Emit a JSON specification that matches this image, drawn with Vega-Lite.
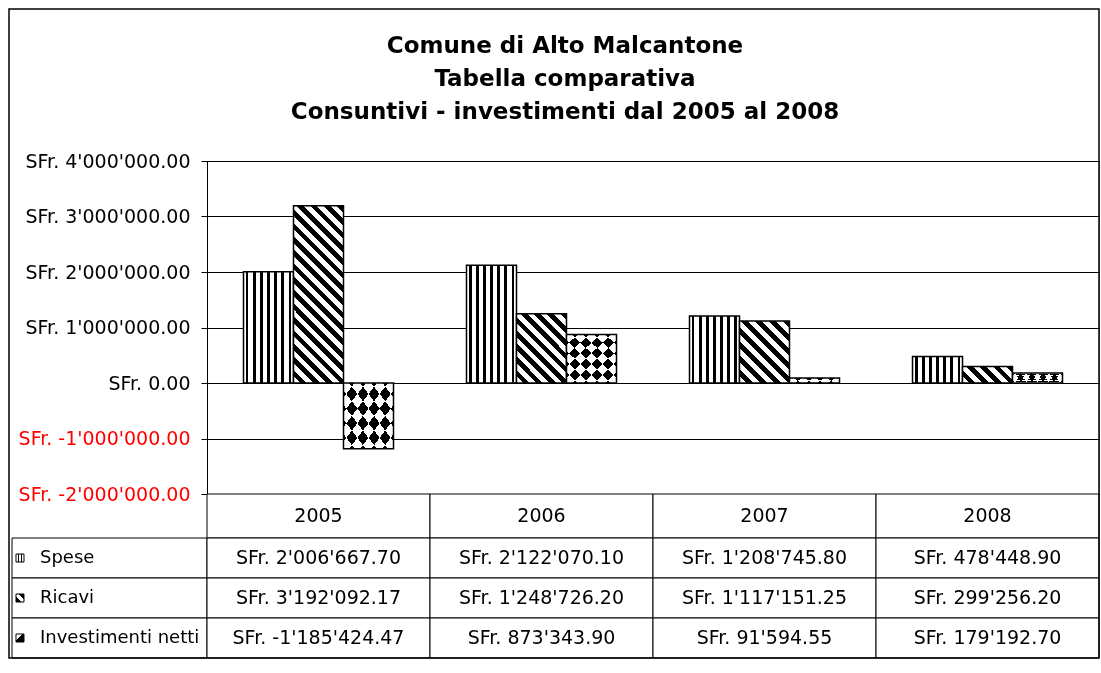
{
  "$schema": "https://vega.github.io/schema/vega-lite/v6.json",
  "background": "white",
  "padding": {"left": 9, "top": 9, "right": 0, "bottom": 0},
  "config": {"view": {"stroke": null}, "font": "DejaVu Sans"},
  "datasets": {
    "rows": [
      {"year": "2005", "series": "Spese", "value": 2006667.70},
      {"year": "2005", "series": "Ricavi", "value": 3192092.17},
      {"year": "2005", "series": "Investimenti netti", "value": -1185424.47},
      {"year": "2006", "series": "Spese", "value": 2122070.10},
      {"year": "2006", "series": "Ricavi", "value": 1248726.20},
      {"year": "2006", "series": "Investimenti netti", "value": 873343.90},
      {"year": "2007", "series": "Spese", "value": 1208745.80},
      {"year": "2007", "series": "Ricavi", "value": 1117151.25},
      {"year": "2007", "series": "Investimenti netti", "value": 91594.55},
      {"year": "2008", "series": "Spese", "value": 478448.90},
      {"year": "2008", "series": "Ricavi", "value": 299256.20},
      {"year": "2008", "series": "Investimenti netti", "value": 179192.70}
    ]
  },
  "columns": 2,
  "spacing": 0,
  "bounds": "flush",
  "concat": [
    {
      "width": 195, "height": 333,
      "data": {"values": [{"a": 1}]},
      "mark": {"type": "text", "text": ""},
      "encoding": {
        "color": {
          "datum": 1, "type": "quantitative",
          "scale": {"domain": [0, 1], "range": ["#ffffff", "#ffffff"]},
          "legend": {
            "orient": "none", "legendX": -3, "legendY": -152,
            "direction": "horizontal", "title": null, "labelExpr": "''",
            "labelFontSize": 1, "labelOffset": 0,
            "padding": 0, "gradientLength": 1090, "gradientThickness": 649,
            "gradientStrokeColor": "#000000", "gradientStrokeWidth": 1.5,
            "encode": {"gradient": {"update": {"fillOpacity": {"value": 0}}}}
          }
        }
      }
    },
    {
      "width": 892, "height": 333,
      "data": {"name": "rows"},
      "view": {"stroke": "#808080"},
      "title": {
        "text": ["Comune di Alto Malcantone", "Tabella comparativa", "Consuntivi - investimenti dal 2005 al 2008"],
        "font": "DejaVu Sans", "fontSize": 23, "fontWeight": "bold", "lineHeight": 33,
        "anchor": "middle", "frame": "group", "dx": -88, "offset": 28, "color": "#000000"
      },
      "encoding": {
        "x": {"field": "year", "type": "nominal", "scale": {"domain": ["2005", "2006", "2007", "2008"], "paddingInner": 0, "paddingOuter": 0}, "axis": null},
        "xOffset": {"field": "series", "type": "nominal", "scale": {"domain": ["Spese", "Ricavi", "Investimenti netti"], "paddingInner": 0, "paddingOuter": 0.73}},
        "y": {
          "field": "value", "type": "quantitative",
          "scale": {"domain": [-2000000, 4000000], "nice": false},
          "axis": {
            "title": null,
            "values": [-2000000, -1000000, 0, 1000000, 2000000, 3000000, 4000000],
            "labelExpr": "'SFr. ' + (datum.value < 0 ? '-' : '') + replace(format(abs(datum.value), ',.2f'), regexp(',', 'g'), \"'\")",
            "labelColor": {"condition": {"test": "datum.value < 0", "value": "#ff0000"}, "value": "#000000"},
            "labelFont": "DejaVu Sans", "labelFontSize": 19, "labelPadding": 11,
            "tickSize": 6, "tickColor": "#000000", "domainColor": "#000000",
            "grid": true, "gridColor": "#000000", "gridOpacity": 1
          }
        }
      },
      "layer": [
        {
          "transform": [{"filter": "datum.series === 'Spese'"}],
          "mark": {"type": "bar", "stroke": "#000000", "strokeWidth": 1.5,
            "fill": {"gradient": "linear", "x1": 0, "y1": 0, "x2": 1, "y2": 0, "stops": [
              {"offset": 0, "color": "#fff"},
              {"offset": 0.043, "color": "#fff"}, {"offset": 0.043, "color": "#000"}, {"offset": 0.1, "color": "#000"}, {"offset": 0.1, "color": "#fff"},
              {"offset": 0.186, "color": "#fff"}, {"offset": 0.186, "color": "#000"}, {"offset": 0.243, "color": "#000"}, {"offset": 0.243, "color": "#fff"},
              {"offset": 0.329, "color": "#fff"}, {"offset": 0.329, "color": "#000"}, {"offset": 0.386, "color": "#000"}, {"offset": 0.386, "color": "#fff"},
              {"offset": 0.471, "color": "#fff"}, {"offset": 0.471, "color": "#000"}, {"offset": 0.529, "color": "#000"}, {"offset": 0.529, "color": "#fff"},
              {"offset": 0.614, "color": "#fff"}, {"offset": 0.614, "color": "#000"}, {"offset": 0.671, "color": "#000"}, {"offset": 0.671, "color": "#fff"},
              {"offset": 0.757, "color": "#fff"}, {"offset": 0.757, "color": "#000"}, {"offset": 0.814, "color": "#000"}, {"offset": 0.814, "color": "#fff"},
              {"offset": 0.9, "color": "#fff"}, {"offset": 0.9, "color": "#000"}, {"offset": 0.957, "color": "#000"}, {"offset": 0.957, "color": "#fff"},
              {"offset": 1, "color": "#fff"}
            ]}
          }
        },
        {
          "transform": [{"filter": "datum.series === 'Ricavi'"}],
          "mark": {"type": "bar", "stroke": "#000000", "strokeWidth": 1.5},
          "encoding": {
            "fill": {
              "condition": [
                {"test": "datum.year === '2005'", "value": {"gradient": "linear", "x1": 1, "y1": 0, "x2": 0.6645, "y2": 1.1877, "stops": [
                  {"offset": 0, "color": "#000"},
                  {"offset": 0.0294, "color": "#000"}, {"offset": 0.0294, "color": "#fff"},
                  {"offset": 0.0588, "color": "#fff"}, {"offset": 0.0588, "color": "#000"},
                  {"offset": 0.0882, "color": "#000"}, {"offset": 0.0882, "color": "#fff"},
                  {"offset": 0.1176, "color": "#fff"}, {"offset": 0.1176, "color": "#000"},
                  {"offset": 0.1471, "color": "#000"}, {"offset": 0.1471, "color": "#fff"},
                  {"offset": 0.1765, "color": "#fff"}, {"offset": 0.1765, "color": "#000"},
                  {"offset": 0.2059, "color": "#000"}, {"offset": 0.2059, "color": "#fff"},
                  {"offset": 0.2353, "color": "#fff"}, {"offset": 0.2353, "color": "#000"},
                  {"offset": 0.2647, "color": "#000"}, {"offset": 0.2647, "color": "#fff"},
                  {"offset": 0.2941, "color": "#fff"}, {"offset": 0.2941, "color": "#000"},
                  {"offset": 0.3235, "color": "#000"}, {"offset": 0.3235, "color": "#fff"},
                  {"offset": 0.3529, "color": "#fff"}, {"offset": 0.3529, "color": "#000"},
                  {"offset": 0.3824, "color": "#000"}, {"offset": 0.3824, "color": "#fff"},
                  {"offset": 0.4118, "color": "#fff"}, {"offset": 0.4118, "color": "#000"},
                  {"offset": 0.4412, "color": "#000"}, {"offset": 0.4412, "color": "#fff"},
                  {"offset": 0.4706, "color": "#fff"}, {"offset": 0.4706, "color": "#000"},
                  {"offset": 0.5, "color": "#000"}, {"offset": 0.5, "color": "#fff"},
                  {"offset": 0.5294, "color": "#fff"}, {"offset": 0.5294, "color": "#000"},
                  {"offset": 0.5588, "color": "#000"}, {"offset": 0.5588, "color": "#fff"},
                  {"offset": 0.5882, "color": "#fff"}, {"offset": 0.5882, "color": "#000"},
                  {"offset": 0.6176, "color": "#000"}, {"offset": 0.6176, "color": "#fff"},
                  {"offset": 0.6471, "color": "#fff"}, {"offset": 0.6471, "color": "#000"},
                  {"offset": 0.6765, "color": "#000"}, {"offset": 0.6765, "color": "#fff"},
                  {"offset": 0.7059, "color": "#fff"}, {"offset": 0.7059, "color": "#000"},
                  {"offset": 0.7353, "color": "#000"}, {"offset": 0.7353, "color": "#fff"},
                  {"offset": 0.7647, "color": "#fff"}, {"offset": 0.7647, "color": "#000"},
                  {"offset": 0.7941, "color": "#000"}, {"offset": 0.7941, "color": "#fff"},
                  {"offset": 0.8235, "color": "#fff"}, {"offset": 0.8235, "color": "#000"},
                  {"offset": 0.8529, "color": "#000"}, {"offset": 0.8529, "color": "#fff"},
                  {"offset": 0.8824, "color": "#fff"}, {"offset": 0.8824, "color": "#000"},
                  {"offset": 0.9118, "color": "#000"}, {"offset": 0.9118, "color": "#fff"},
                  {"offset": 0.9412, "color": "#fff"}, {"offset": 0.9412, "color": "#000"},
                  {"offset": 0.9706, "color": "#000"}, {"offset": 0.9706, "color": "#fff"},
                  {"offset": 1, "color": "#fff"}
                ]}},
                {"test": "datum.year === '2006'", "value": {"gradient": "linear", "x1": 1, "y1": 0, "x2": 0.1805, "y2": 1.1308, "stops": [
                  {"offset": 0, "color": "#000"},
                  {"offset": 0.0556, "color": "#000"}, {"offset": 0.0556, "color": "#fff"},
                  {"offset": 0.1111, "color": "#fff"}, {"offset": 0.1111, "color": "#000"},
                  {"offset": 0.1667, "color": "#000"}, {"offset": 0.1667, "color": "#fff"},
                  {"offset": 0.2222, "color": "#fff"}, {"offset": 0.2222, "color": "#000"},
                  {"offset": 0.2778, "color": "#000"}, {"offset": 0.2778, "color": "#fff"},
                  {"offset": 0.3333, "color": "#fff"}, {"offset": 0.3333, "color": "#000"},
                  {"offset": 0.3889, "color": "#000"}, {"offset": 0.3889, "color": "#fff"},
                  {"offset": 0.4444, "color": "#fff"}, {"offset": 0.4444, "color": "#000"},
                  {"offset": 0.5, "color": "#000"}, {"offset": 0.5, "color": "#fff"},
                  {"offset": 0.5556, "color": "#fff"}, {"offset": 0.5556, "color": "#000"},
                  {"offset": 0.6111, "color": "#000"}, {"offset": 0.6111, "color": "#fff"},
                  {"offset": 0.6667, "color": "#fff"}, {"offset": 0.6667, "color": "#000"},
                  {"offset": 0.7222, "color": "#000"}, {"offset": 0.7222, "color": "#fff"},
                  {"offset": 0.7778, "color": "#fff"}, {"offset": 0.7778, "color": "#000"},
                  {"offset": 0.8333, "color": "#000"}, {"offset": 0.8333, "color": "#fff"},
                  {"offset": 0.8889, "color": "#fff"}, {"offset": 0.8889, "color": "#000"},
                  {"offset": 0.9444, "color": "#000"}, {"offset": 0.9444, "color": "#fff"},
                  {"offset": 1, "color": "#fff"}
                ]}},
                {"test": "datum.year === '2007'", "value": {"gradient": "linear", "x1": 1, "y1": 0, "x2": 0.1173, "y2": 1.0946, "stops": [
                  {"offset": 0, "color": "#000"},
                  {"offset": 0.0625, "color": "#000"}, {"offset": 0.0625, "color": "#fff"},
                  {"offset": 0.125, "color": "#fff"}, {"offset": 0.125, "color": "#000"},
                  {"offset": 0.1875, "color": "#000"}, {"offset": 0.1875, "color": "#fff"},
                  {"offset": 0.25, "color": "#fff"}, {"offset": 0.25, "color": "#000"},
                  {"offset": 0.3125, "color": "#000"}, {"offset": 0.3125, "color": "#fff"},
                  {"offset": 0.375, "color": "#fff"}, {"offset": 0.375, "color": "#000"},
                  {"offset": 0.4375, "color": "#000"}, {"offset": 0.4375, "color": "#fff"},
                  {"offset": 0.5, "color": "#fff"}, {"offset": 0.5, "color": "#000"},
                  {"offset": 0.5625, "color": "#000"}, {"offset": 0.5625, "color": "#fff"},
                  {"offset": 0.625, "color": "#fff"}, {"offset": 0.625, "color": "#000"},
                  {"offset": 0.6875, "color": "#000"}, {"offset": 0.6875, "color": "#fff"},
                  {"offset": 0.75, "color": "#fff"}, {"offset": 0.75, "color": "#000"},
                  {"offset": 0.8125, "color": "#000"}, {"offset": 0.8125, "color": "#fff"},
                  {"offset": 0.875, "color": "#fff"}, {"offset": 0.875, "color": "#000"},
                  {"offset": 0.9375, "color": "#000"}, {"offset": 0.9375, "color": "#fff"},
                  {"offset": 1, "color": "#fff"}
                ]}}
              ],
              "value": {"gradient": "linear", "x1": 1, "y1": 0, "x2": -0.1997, "y2": 0.3983, "stops": [
                {"offset": 0, "color": "#000"},
                {"offset": 0.1, "color": "#000"}, {"offset": 0.1, "color": "#fff"},
                {"offset": 0.2, "color": "#fff"}, {"offset": 0.2, "color": "#000"},
                {"offset": 0.3, "color": "#000"}, {"offset": 0.3, "color": "#fff"},
                {"offset": 0.4, "color": "#fff"}, {"offset": 0.4, "color": "#000"},
                {"offset": 0.5, "color": "#000"}, {"offset": 0.5, "color": "#fff"},
                {"offset": 0.6, "color": "#fff"}, {"offset": 0.6, "color": "#000"},
                {"offset": 0.7, "color": "#000"}, {"offset": 0.7, "color": "#fff"},
                {"offset": 0.8, "color": "#fff"}, {"offset": 0.8, "color": "#000"},
                {"offset": 0.9, "color": "#000"}, {"offset": 0.9, "color": "#fff"},
                {"offset": 1, "color": "#fff"}
              ]}
            }
          }
        },
        {
          "transform": [{"filter": "datum.series === 'Investimenti netti'"}],
          "mark": {"type": "bar", "strokeWidth": 0,
            "fill": {"gradient": "linear", "x1": 0, "y1": 0, "x2": 1, "y2": 1, "stops": [
              {"offset": 0, "color": "#000"},
              {"offset": 0.1111, "color": "#000"}, {"offset": 0.1111, "color": "#fff"},
              {"offset": 0.2222, "color": "#fff"}, {"offset": 0.2222, "color": "#000"},
              {"offset": 0.3333, "color": "#000"}, {"offset": 0.3333, "color": "#fff"},
              {"offset": 0.4444, "color": "#fff"}, {"offset": 0.4444, "color": "#000"},
              {"offset": 0.5556, "color": "#000"}, {"offset": 0.5556, "color": "#fff"},
              {"offset": 0.6667, "color": "#fff"}, {"offset": 0.6667, "color": "#000"},
              {"offset": 0.7778, "color": "#000"}, {"offset": 0.7778, "color": "#fff"},
              {"offset": 0.8889, "color": "#fff"}, {"offset": 0.8889, "color": "#000"},
              {"offset": 1, "color": "#000"}
            ]}
          }
        },
        {
          "transform": [{"filter": "datum.series === 'Investimenti netti'"}],
          "mark": {"type": "bar", "strokeWidth": 0, "blend": "difference",
            "fill": {"gradient": "linear", "x1": 1, "y1": 0, "x2": 0, "y2": 1, "stops": [
              {"offset": 0, "color": "#fff"},
              {"offset": 0.1111, "color": "#fff"}, {"offset": 0.1111, "color": "rgba(0,0,0,0)"},
              {"offset": 0.2222, "color": "rgba(0,0,0,0)"}, {"offset": 0.2222, "color": "#fff"},
              {"offset": 0.3333, "color": "#fff"}, {"offset": 0.3333, "color": "rgba(0,0,0,0)"},
              {"offset": 0.4444, "color": "rgba(0,0,0,0)"}, {"offset": 0.4444, "color": "#fff"},
              {"offset": 0.5556, "color": "#fff"}, {"offset": 0.5556, "color": "rgba(0,0,0,0)"},
              {"offset": 0.6667, "color": "rgba(0,0,0,0)"}, {"offset": 0.6667, "color": "#fff"},
              {"offset": 0.7778, "color": "#fff"}, {"offset": 0.7778, "color": "rgba(0,0,0,0)"},
              {"offset": 0.8889, "color": "rgba(0,0,0,0)"}, {"offset": 0.8889, "color": "#fff"},
              {"offset": 1, "color": "#fff"}
            ]}
          }
        },
        {
          "transform": [{"filter": "datum.series === 'Investimenti netti'"}],
          "mark": {"type": "bar", "fillOpacity": 0, "stroke": "#000000", "strokeWidth": 1.5}
        }
      ]
    },
    {
      "width": 195, "height": 44,
      "data": {"values": [{"a": 1}]},
      "mark": {"type": "text", "text": ""},
      "encoding": {}
    },
    {
      "width": 892, "height": 44,
      "data": {"name": "rows"},
      "transform": [{"aggregate": [{"op": "count", "as": "n"}], "groupby": ["year"]}],
      "encoding": {
        "x": {"field": "year", "type": "nominal", "scale": {"domain": ["2005", "2006", "2007", "2008"], "paddingInner": 0, "paddingOuter": 0}, "axis": null}
      },
      "layer": [
        {
          "mark": {"type": "rect", "fill": "#ffffff", "stroke": "#000000", "strokeWidth": 1},
          "encoding": {
            "y": {"datum": 0, "type": "quantitative", "scale": {"domain": [0, 1]}, "axis": null},
            "y2": {"datum": 1}
          }
        },
        {
          "mark": {"type": "text", "font": "DejaVu Sans", "fontSize": 19, "color": "#000000"},
          "encoding": {"text": {"field": "year"}}
        }
      ]
    },
    {
      "width": 195, "height": 120,
      "data": {"name": "rows"},
      "transform": [{"aggregate": [{"op": "count", "as": "n"}], "groupby": ["series"]}],
      "encoding": {
        "y": {"field": "series", "type": "nominal", "scale": {"domain": ["Spese", "Ricavi", "Investimenti netti"], "paddingInner": 0, "paddingOuter": 0}, "axis": null}
      },
      "layer": [
        {
          "mark": {"type": "rect", "fill": "#ffffff", "stroke": "#000000", "strokeWidth": 1},
          "encoding": {
            "x": {"datum": 0, "type": "quantitative", "scale": {"domain": [0, 1]}, "axis": null},
            "x2": {"datum": 1}
          }
        },
        {
          "mark": {"type": "point", "shape": "square", "size": 64, "filled": true, "stroke": "#000000", "strokeWidth": 1, "opacity": 1},
          "encoding": {
            "x": {"datum": 0.041, "type": "quantitative", "scale": {"domain": [0, 1]}, "axis": null},
            "fill": {
              "condition": [
                {"test": "datum.series === 'Spese'", "value": {"gradient": "linear", "x1": 0, "y1": 0, "x2": 1, "y2": 0, "stops": [
                  {"offset": 0, "color": "#fff"}, {"offset": 0.2, "color": "#fff"}, {"offset": 0.2, "color": "#000"},
                  {"offset": 0.42, "color": "#000"}, {"offset": 0.42, "color": "#fff"}, {"offset": 0.58, "color": "#fff"},
                  {"offset": 0.58, "color": "#000"}, {"offset": 0.8, "color": "#000"}, {"offset": 0.8, "color": "#fff"},
                  {"offset": 1, "color": "#fff"}
                ]}},
                {"test": "datum.series === 'Ricavi'", "value": {"gradient": "linear", "x1": 1, "y1": 0, "x2": 0, "y2": 1, "stops": [
                  {"offset": 0, "color": "#000"}, {"offset": 0.35, "color": "#000"}, {"offset": 0.35, "color": "#fff"},
                  {"offset": 0.65, "color": "#fff"}, {"offset": 0.65, "color": "#000"}, {"offset": 1, "color": "#000"}
                ]}}
              ],
              "value": {"gradient": "linear", "x1": 0, "y1": 0, "x2": 1, "y2": 1, "stops": [
                {"offset": 0, "color": "#fff"}, {"offset": 0.4, "color": "#fff"}, {"offset": 0.4, "color": "#000"}, {"offset": 1, "color": "#000"}
              ]}
            }
          }
        },
        {
          "mark": {"type": "text", "font": "DejaVu Sans", "fontSize": 18, "align": "left", "color": "#000000"},
          "encoding": {
            "x": {"datum": 0.1436, "type": "quantitative", "scale": {"domain": [0, 1]}, "axis": null},
            "text": {"field": "series"}
          }
        }
      ]
    },
    {
      "width": 892, "height": 120,
      "data": {"name": "rows"},
      "transform": [
        {"calculate": "'SFr. ' + (datum.value < 0 ? '-' : '') + replace(format(abs(datum.value), ',.2f'), regexp(',', 'g'), \"'\")", "as": "label"}
      ],
      "encoding": {
        "x": {"field": "year", "type": "nominal", "scale": {"domain": ["2005", "2006", "2007", "2008"], "paddingInner": 0, "paddingOuter": 0}, "axis": null},
        "y": {"field": "series", "type": "nominal", "scale": {"domain": ["Spese", "Ricavi", "Investimenti netti"], "paddingInner": 0, "paddingOuter": 0}, "axis": null}
      },
      "layer": [
        {"mark": {"type": "rect", "fill": "#ffffff", "stroke": "#000000", "strokeWidth": 1}},
        {
          "mark": {"type": "text", "font": "DejaVu Sans", "fontSize": 19, "color": "#000000"},
          "encoding": {"text": {"field": "label"}}
        }
      ]
    }
  ]
}
